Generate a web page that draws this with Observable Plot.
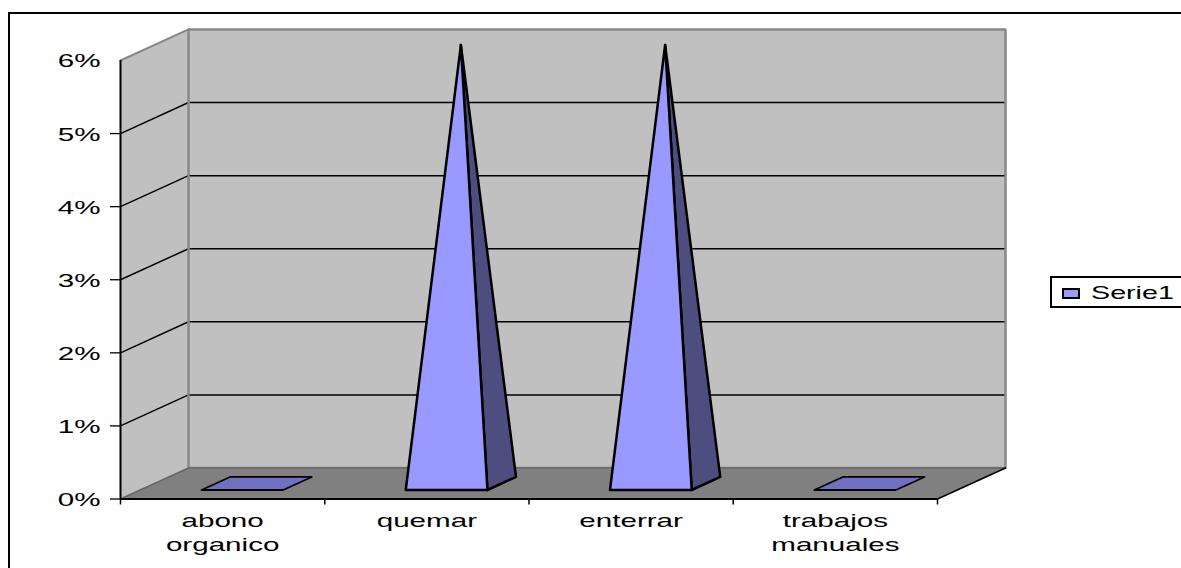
<!DOCTYPE html>
<html>
<head>
<meta charset="utf-8">
<script src="https://cdn.jsdelivr.net/npm/d3@7"></script>
<script src="https://cdn.jsdelivr.net/npm/@observablehq/plot@0.6"></script>
<style>
html,body{margin:0;padding:0;background:#fff;width:1181px;height:568px;overflow:hidden;position:relative;font-family:"Liberation Sans",Arial,sans-serif}
#chart{position:absolute;left:0;top:0}
#outer{position:absolute;left:8px;top:12px;width:1300px;height:700px;border:2px solid #000;pointer-events:none}
#legend{position:absolute;left:1050px;top:276px;width:200px;height:28px;border:2px solid #000;background:#fff}
#swatch{position:absolute;left:10px;top:10px;width:14px;height:7px;background:#9999FF;border:2px solid #000}
#ltext{position:absolute;left:39px;top:5px;font-size:18.5px;line-height:20px;color:#000;transform:scaleX(1.55);transform-origin:0 50%}
</style>
</head>
<body>
<div id="chart"></div>
<div id="outer"></div>
<div id="legend"><span id="swatch"></span><span id="ltext"></span></div>
<script>
const categories = ["abono\norganico", "quemar", "enterrar", "trabajos\nmanuales"];
const values = [0, 0.06, 0.06, 0];
const yTicks = [0, 0.01, 0.02, 0.03, 0.04, 0.05, 0.06];
const seriesName = "Serie1";

// oblique 3D projection: one unit of depth shifts by these data-unit amounts
const depthX = 68 / 204.25;
const depthY = 31 / 73 * 0.01;
const project = (c, v, d) => ({x: c + d * depthX, y: v + d * depthY});

const maxV = yTicks[yTicks.length - 1], n = categories.length;
const poly = (pts) => pts.map(([c, v, d]) => project(c, v, d));

const sideWall = poly([[0,0,0],[0,maxV,0],[0,maxV,1],[0,0,1]]);
const backWall = poly([[0,0,1],[0,maxV,1],[n,maxV,1],[n,0,1]]);
const floorPlane = poly([[0,0,0],[n,0,0],[n,0,1],[0,0,1]]);

const gridRows = yTicks.slice(1, -1).flatMap((v) =>
  poly([[0,v,0],[0,v,1],[n,v,1]]).map((p) => ({...p, v})));

const d0 = 0.29, d1 = 0.71, w0 = 0.3, w1 = 0.7;
const flats = [], sides = [], fronts = [];
values.forEach((v, i) => {
  const a = i + w0, b = i + w1, m = i + 0.5, dm = 0.5;
  if (v === 0) {
    poly([[a,0,d0],[b,0,d0],[b,0,d1],[a,0,d1]]).forEach((p) => flats.push({...p, i}));
  } else {
    poly([[b,0,d0],[b,0,d1],[m,v,dm]]).forEach((p) => sides.push({...p, i}));
    poly([[a,0,d0],[b,0,d0],[m,v,dm]]).forEach((p) => fronts.push({...p, i}));
  }
});

const closed = {x: "x", y: "y", curve: "linear-closed"};
const plot = Plot.plot({
  width: 1181, height: 568,
  marginLeft: 120, marginRight: 244, marginTop: 60, marginBottom: 69.5,
  style: {background: "transparent", fontFamily: "'Liberation Sans', Arial, sans-serif", fontSize: "18.5px", color: "#000"},
  x: {domain: [0, n]},
  y: {domain: [0, maxV]},
  marks: [
    Plot.line(sideWall, {...closed, fill: "#C0C0C0", stroke: "none"}),
    Plot.line(floorPlane, {...closed, fill: "#808080", stroke: "none"}),
    Plot.line(backWall, {...closed, fill: "#C0C0C0", stroke: "none"}),
    Plot.line(gridRows, {x: "x", y: "y", z: "v", stroke: "#000", strokeWidth: 1.5}),
    Plot.line(backWall, {...closed, stroke: "#888888", strokeWidth: 2.5, strokeLinejoin: "miter"}),
    Plot.line(poly([[0,0,0],[0,0,1],[n,0,1]]), {x: "x", y: "y", stroke: "#666666", strokeWidth: 1.5}),
    Plot.line(poly([[0,maxV,0],[0,maxV,1]]), {x: "x", y: "y", stroke: "#888888", strokeWidth: 2}),
    Plot.line(flats, {...closed, z: "i", fill: "#7070C0", stroke: "#000", strokeWidth: 1.8}),
    Plot.line(sides, {...closed, z: "i", fill: "#4D4D80", stroke: "#000", strokeWidth: 2.5}),
    Plot.line(fronts, {...closed, z: "i", fill: "#9999FF", stroke: "#000", strokeWidth: 2.5}),
    Plot.line(poly([[n,0,0],[n,0,1]]), {x: "x", y: "y", stroke: "#000", strokeWidth: 1.5}),
    Plot.ruleX([0], {y1: 0, y2: maxV, stroke: "#000", strokeWidth: 2}),
    Plot.ruleY([0], {x1: 0, x2: n, stroke: "#000", strokeWidth: 2}),
    Plot.axisY({ticks: yTicks.slice(0, -1), tickSize: 10, tickFormat: () => "", label: null, stroke: "#000", strokeWidth: 1.3}),
    Plot.axisY({ticks: yTicks, tickSize: 0, tickPadding: 20, dy: 1, tickFormat: (d) => `${Math.round(d * 100)}%`, label: null, fontSize: 18.5, fill: "#000"}),
    Plot.axisX({ticks: d3.range(n + 1), tickSize: 6, tickFormat: () => "", label: null, stroke: "#000", strokeWidth: 1.5}),
    Plot.axisX({ticks: categories.map((_, i) => i + 0.5), tickSize: 0, tickPadding: 12, lineHeight: 1.25,
      tickFormat: (d) => categories[Math.floor(d)], label: null, fontSize: 18.5, fill: "#000"})
  ]
});
// the source picture is stretched horizontally: widen the glyphs about their anchor
d3.select(plot).selectAll("text").each(function () {
  const t = this.getAttribute("transform") || "";
  this.setAttribute("transform", t + " scale(1.6,1)");
});
document.getElementById("chart").append(plot);
document.getElementById("ltext").textContent = seriesName;
</script>
</body>
</html>
